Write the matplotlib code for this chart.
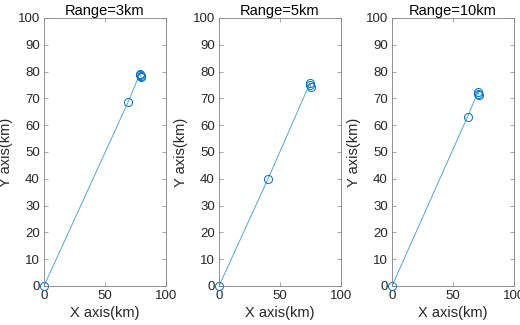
import matplotlib
matplotlib.use("Agg")
import matplotlib.pyplot as plt

plt.rcParams['font.family'] = ['Liberation Sans', 'DejaVu Sans']

titles = ["Range=3km", "Range=5km", "Range=10km"]
x3 = [0, 68.9, 78.6, 79.0, 79.4, 79.8]
y3 = [0, 68.6, 79.2, 78.8, 78.2, 77.8]
x5 = [0, 40.2, 74.5, 74.9, 75.2]
y5 = [0, 40.0, 75.6, 74.9, 74.3]
x10 = [0, 62.0, 70.5, 70.9, 71.3]
y10 = [0, 63.2, 72.4, 71.8, 71.2]
xs = [x3, x5, x10]
ys = [y3, y5, y10]

xticks = [0, 50, 100]
yticks = list(range(0, 101, 10))

fig = plt.figure(figsize=(5.2, 3.25), dpi=100)
lefts = [44/520, 219/520, 392/520]
color = '#0072BD'
for i in range(3):
    ax = fig.add_axes([lefts[i], 39/325, 122/520, 268/325])
    ax.plot(xs[i], ys[i], '-', color='#3d97d6', lw=0.6)
    ax.plot(xs[i], ys[i], 'o', color=color, markersize=5.8,
            markerfacecolor='none', markeredgewidth=0.7, clip_on=False)
    ax.set_xlim(0, 100)
    ax.set_ylim(0, 100)
    ax.set_xticks(xticks)
    ax.set_yticks(yticks)
    ax.tick_params(direction='in', length=3, width=0.5, colors='#808080',
                   labelcolor='#262626', labelsize=9.5, top=True, right=True, pad=3)
    for s in ax.spines.values():
        s.set_color('#808080')
        s.set_linewidth(0.6)
    ax.set_title(titles[i], fontsize=10.5, color='black', pad=2)
    ax.set_xlabel("X axis(km)", fontsize=10.5, color='#262626', labelpad=3)
    ax.set_ylabel("Y axis(km)", fontsize=10.5, color='#262626', labelpad=3)

fig.savefig("out.png", dpi=100)
